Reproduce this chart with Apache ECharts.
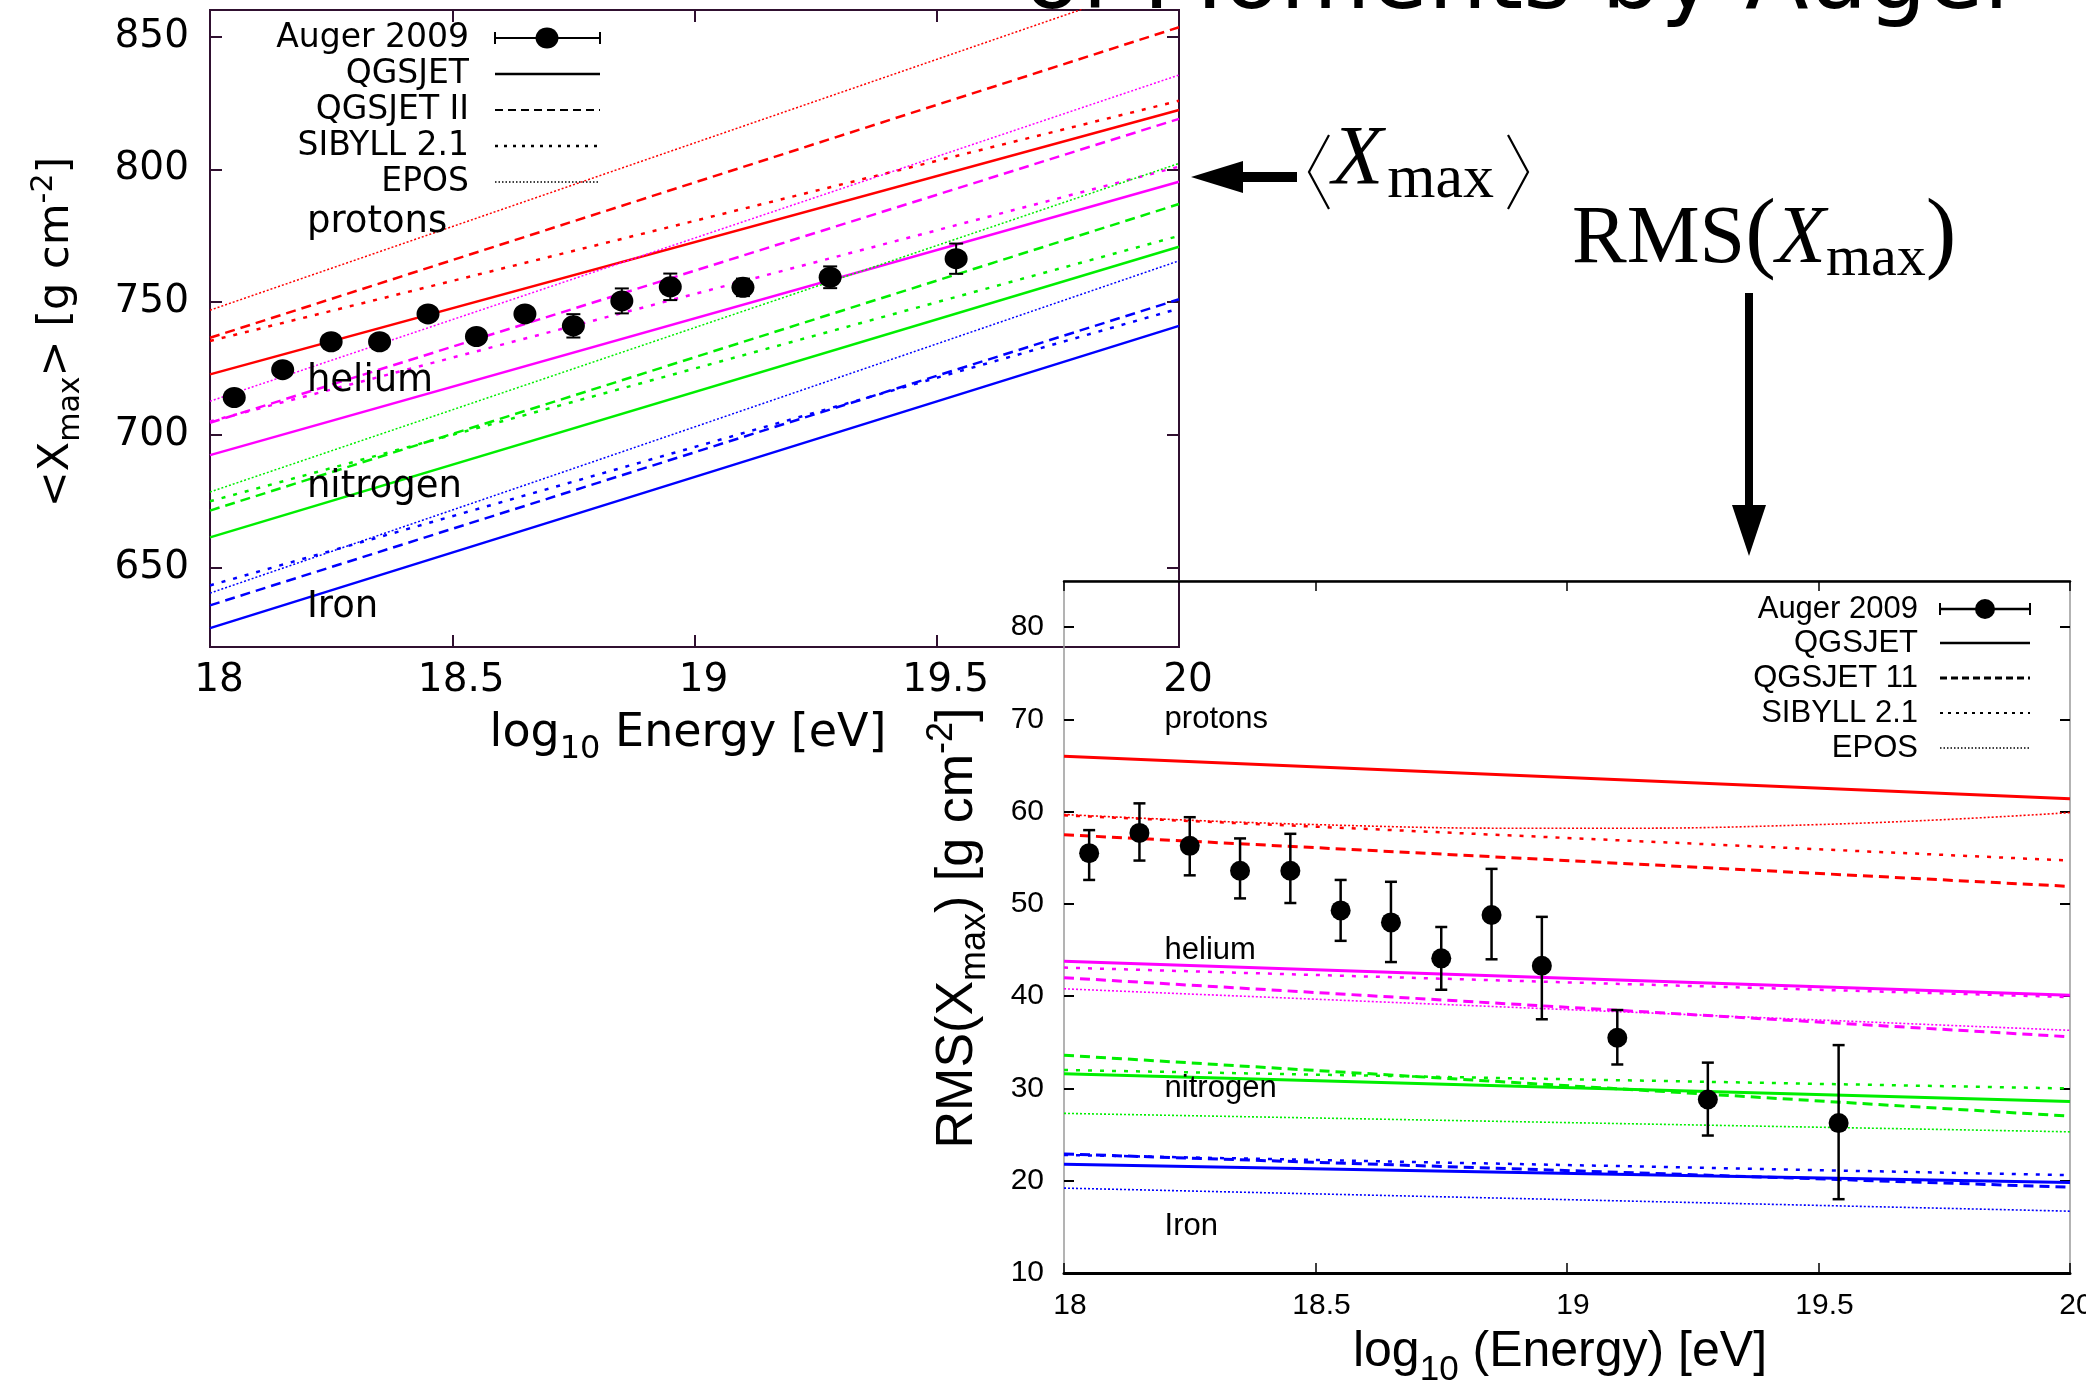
<!DOCTYPE html>
<html><head><meta charset="utf-8">
<script src="https://cdn.jsdelivr.net/npm/echarts@6/dist/echarts.min.js"></script>
<style>html,body{margin:0;padding:0;background:#fff}#c{width:2086px;height:1387px}</style>
</head><body><div id="c"></div>
<script>
// ---------------- data ----------------
const energyTicks = [18, 18.5, 19, 19.5, 20];
const xmaxTicks = [650, 700, 750, 800, 850];
const rmsTicks = [10, 20, 30, 40, 50, 60, 70, 80];
const models = ['QGSJET', 'QGSJET II', 'SIBYLL 2.1', 'EPOS'];
const xmaxLegendNames = ['Auger 2009', 'QGSJET', 'QGSJET II', 'SIBYLL 2.1', 'EPOS'];
const rmsLegendNames = ['Auger 2009', 'QGSJET', 'QGSJET 11', 'SIBYLL 2.1', 'EPOS'];
const elements = ['protons', 'helium', 'nitrogen', 'Iron'];
const xmaxLabelAt = [780, 720, 680, 635];
const rmsLabelAt = [70, 45, 30, 15];
const labelEnergy = 18.2;
const lineEnergy = [18, 20];
// <Xmax> model predictions [at 18, at 20]; order QGSJET, QGSJET II, SIBYLL 2.1, EPOS
const xmaxProtons  = [[722.7, 822.3], [736.5, 853.5], [735.3, 825.8], [746.9, 872.9]];
const xmaxHelium   = [[692.3, 795.3], [704.5, 819.0], [705.0, 801.0], [712.6, 835.5]];
const xmaxNitrogen = [[661.3, 770.8], [671.4, 786.9], [674.9, 774.9], [678.4, 802.2]];
const xmaxIron     = [[627.1, 741.0], [635.7, 751.0], [643.2, 747.5], [640.3, 765.5]];
// RMS(Xmax) model predictions [at 18, at 20]
const rmsProtons   = [[66.0, 61.4], [57.5, 51.9], [59.6, 54.7], null];
const rmsProtonsEposEnergy = [18, 18.5, 19, 19.5, 20];
const rmsProtonsEpos = [59.7, 58.6, 58.2, 58.6, 59.9];
const rmsHelium    = [[43.8, 40.1], [42.0, 35.6], [43.1, 39.9], [40.8, 36.3]];
const rmsNitrogen  = [[31.6, 28.6], [33.6, 27.0], [32.0, 30.0], [27.3, 25.3]];
const rmsIron      = [[21.8, 19.8], [22.9, 19.3], [22.8, 20.6], [19.2, 16.7]];
// Auger 2009 measurements
const augerEnergy = [18.05, 18.15, 18.25, 18.35, 18.45, 18.55, 18.65, 18.75, 18.85, 18.95, 19.10, 19.28, 19.54];
const augerXmax    = [714.0, 724.5, 735.0, 735.0, 745.5, 737.0, 745.5, 741.0, 750.4, 755.7, 755.5, 759.3, 766.3];
const augerXmaxErr = [2.3, 2.0, 2.0, 2.0, 2.3, 2.5, 2.5, 4.4, 4.7, 5.0, 3.3, 4.1, 5.7];
const augerRms     = [55.5, 57.7, 56.3, 53.6, 53.6, 49.3, 48.0, 44.1, 48.8, 43.3, 35.5, 28.8, 26.25];
const augerRmsHigh = [58.0, 60.9, 59.4, 57.1, 57.6, 52.6, 52.4, 47.5, 53.8, 48.6, 38.5, 32.8, 34.7];
const augerRmsLow  = [52.6, 54.7, 53.1, 50.6, 50.1, 46.0, 43.7, 40.7, 44.0, 37.5, 32.6, 24.9, 18.0];

// ---------------- styles ----------------
const TOPF = 'DejaVu Sans';
const BOTF = 'Liberation Sans';
const SERIF = 'Liberation Serif';
const topAx = '#301030';
const colRed = '#ff0000', colMag = '#ff00ff', colGreen = '#00ee00', colBlue = '#0000ff';
const modelDash = ['solid', [10, 6], [4, 8], [2, 2]];
const topWidths = [2.5, 2.5, 2.5, 1.5];
const botWidths = [3, 3, 2.5, 1.6];

const chart = echarts.init(document.getElementById('c'), null, {renderer: 'canvas', width: 2086, height: 1387});

function modelLines(arrs, color, ax, widths, tag) {
  const out = [];
  arrs.forEach((v, m) => {
    if (!v) return;
    out.push({
      type: 'line', name: tag + ' ' + models[m], xAxisIndex: ax, yAxisIndex: ax,
      data: lineEnergy.map((x, i) => [x, v[i]]), symbol: 'none', silent: true, clip: true,
      lineStyle: {color: color, width: widths[m], type: modelDash[m], cap: 'butt', opacity: 1}, z: 2
    });
  });
  return out;
}

function errSeries(ax, data, cap, lw) {
  return {
    type: 'custom', xAxisIndex: ax, yAxisIndex: ax, silent: true, z: 3, clip: true,
    data: data,
    renderItem: function (params, api) {
      const x = api.value(0);
      const lo = api.coord([x, api.value(1)]);
      const hi = api.coord([x, api.value(2)]);
      const st = {stroke: '#000', lineWidth: lw};
      return {type: 'group', children: [
        {type: 'line', shape: {x1: lo[0], y1: lo[1], x2: hi[0], y2: hi[1]}, style: st},
        {type: 'line', shape: {x1: hi[0] - cap, y1: hi[1], x2: hi[0] + cap, y2: hi[1]}, style: st},
        {type: 'line', shape: {x1: lo[0] - cap, y1: lo[1], x2: lo[0] + cap, y2: lo[1]}, style: st}
      ]};
    }
  };
}

function labelSeries(ax, values, font, size) {
  return {
    type: 'scatter', xAxisIndex: ax, yAxisIndex: ax, silent: true, symbolSize: 0,
    itemStyle: {color: '#000', opacity: 1}, z: 5,
    data: elements.map((n, i) => ({name: n, value: [labelEnergy, values[i]]})),
    label: {show: true, position: 'right', distance: 0, formatter: '{b}', fontFamily: font, fontSize: size, color: '#000', opacity: 1}
  };
}

function pointSeries(ax, data, size) {
  return {type: 'scatter', xAxisIndex: ax, yAxisIndex: ax, symbol: 'circle', symbolSize: size, silent: true, z: 4,
    itemStyle: {color: '#000', opacity: 1}, data: data};
}

const series = [].concat(
  modelLines(xmaxProtons, colRed, 0, topWidths, 'p'),
  modelLines(xmaxHelium, colMag, 0, topWidths, 'He'),
  modelLines(xmaxNitrogen, colGreen, 0, topWidths, 'N'),
  modelLines(xmaxIron, colBlue, 0, topWidths, 'Fe'),
  modelLines(rmsProtons, colRed, 2, botWidths, 'p'),
  [{type: 'line', name: 'p EPOS rms', xAxisIndex: 2, yAxisIndex: 2, smooth: 0.5, symbol: 'none', silent: true,
    data: rmsProtonsEposEnergy.map((x, i) => [x, rmsProtonsEpos[i]]),
    lineStyle: {color: colRed, width: botWidths[3], type: modelDash[3]}, z: 2}],
  modelLines(rmsHelium, colMag, 2, botWidths, 'He'),
  modelLines(rmsNitrogen, colGreen, 2, botWidths, 'N'),
  modelLines(rmsIron, colBlue, 2, botWidths, 'Fe'),
  [errSeries(0, augerEnergy.map((x, i) => [x, augerXmax[i] - augerXmaxErr[i], augerXmax[i] + augerXmaxErr[i]]), 7, 2),
   pointSeries(0, augerEnergy.map((x, i) => [x, augerXmax[i]]), [23, 21]),
   errSeries(2, augerEnergy.map((x, i) => [x, augerRmsLow[i], augerRmsHigh[i]]), 6, 2.5),
   pointSeries(2, augerEnergy.map((x, i) => [x, augerRms[i]]), 20),
   labelSeries(0, xmaxLabelAt, TOPF, 37),
   labelSeries(2, rmsLabelAt, BOTF, 31)]
);

function fmt(v) { return String(Math.round(v * 10) / 10); }

function xAxisDef(grid, pos, showLabel, o) {
  return {
    type: 'value', gridIndex: grid, min: 18, max: 20, position: pos,
    axisLine: {show: !!o.line, lineStyle: {color: o.lineColor || '#000', width: o.lineW || 1}},
    splitLine: {show: false},
    axisTick: {show: true, inside: true, length: o.tick, lineStyle: {color: o.tickColor, width: o.tickW}, customValues: energyTicks},
    axisLabel: {show: showLabel, customValues: energyTicks, formatter: fmt, fontFamily: o.font, fontSize: o.size, color: '#000', margin: o.margin, padding: [0, 0, 0, o.pad], showMinLabel: true, showMaxLabel: true}
  };
}
function yAxisDef(grid, pos, showLabel, min, max, ticks, o) {
  return {
    type: 'value', gridIndex: grid, min: min, max: max, position: pos,
    axisLine: {show: false}, splitLine: {show: false},
    axisTick: {show: true, inside: true, length: o.tick, lineStyle: {color: o.tickColor, width: o.tickW}, customValues: ticks},
    axisLabel: {show: showLabel, customValues: ticks, formatter: fmt, fontFamily: o.font, fontSize: o.size, color: '#000', margin: o.margin, showMinLabel: true, showMaxLabel: true}
  };
}
const topO = {tick: 12, tickColor: topAx, tickW: 2, font: TOPF, size: 39, margin: 14, pad: 18};
const topYO = {tick: 12, tickColor: topAx, tickW: 2, font: TOPF, size: 39, margin: 21};
const botO = {tick: 10, tickColor: '#000', tickW: 1.5, font: BOTF, size: 30, margin: 18, pad: 12, line: true, lineW: 3};
const botTopO = {tick: 10, tickColor: '#000', tickW: 1.5, font: BOTF, size: 30, margin: 18, pad: 0, line: true, lineW: 2.5};
const botYO = {tick: 10, tickColor: '#000', tickW: 2, font: BOTF, size: 30, margin: 20};

// ---------- text helpers (graphic decorations) ----------
const mctx = document.createElement('canvas').getContext('2d');
function textW(t, size, fam, italic) {
  mctx.font = (italic ? 'italic ' : '') + size + 'px "' + fam + '"';
  return mctx.measureText(t).width;
}
function compose(parts, fam) {
  let x = 0; const kids = [];
  parts.forEach(p => {
    const f = p.f || fam;
    const w = textW(p.t, p.s, f, p.i);
    kids.push({type: 'text', x: x, y: (p.dy || 0) - 0.35 * p.s, silent: true,
      style: {text: p.t, fontSize: p.s, fontFamily: f, fontStyle: p.i ? 'italic' : 'normal', fill: '#000',
        align: 'left', verticalAlign: 'middle', textAlign: 'left', textVerticalAlign: 'middle'}});
    x += w + (p.gap || 0);
  });
  return {kids: kids, w: x};
}
function centeredTitle(parts, fam, cx, baseY, rot) {
  const c = compose(parts, fam);
  c.kids.forEach(k => { k.x -= c.w / 2; });
  return {type: 'group', x: cx, y: baseY, rotation: rot || 0, children: c.kids, silent: true};
}
function plainText(t, x, y, fam, size, align, extra) {
  return Object.assign({type: 'text', x: x, y: y, silent: true,
    style: {text: t, fontSize: size, fontFamily: fam, fill: '#000', align: align, verticalAlign: 'middle',
      textAlign: align, textVerticalAlign: 'middle'}}, extra || {});
}

const graphics = [];
// axis titles
graphics.push(centeredTitle([{t: 'log', s: 46}, {t: '10', s: 32, dy: 11}, {t: ' Energy [eV]', s: 46}], TOPF, 688, 750));
graphics.push(centeredTitle([{t: '<X', s: 43}, {t: 'max', s: 30, dy: 10}, {t: '> [g cm', s: 43}, {t: '-2', s: 30, dy: -17}, {t: ']', s: 43}], TOPF, 72, 332, Math.PI / 2));
graphics.push(centeredTitle([{t: 'log', s: 50}, {t: '10', s: 35, dy: 13}, {t: ' (Energy) [eV]', s: 50}], BOTF, 1560, 1370));
graphics.push(centeredTitle([{t: 'RMS(X', s: 52}, {t: 'max', s: 36, dy: 12}, {t: ') [g cm', s: 52}, {t: '-2', s: 36, dy: -21}, {t: ']', s: 52}], BOTF, 976, 928, Math.PI / 2));

// top legend
const topLegX = 469, topSampleL = 495, topSampleR = 600;
const topRows = [38, 74, 110, 146, 182];
xmaxLegendNames.forEach((n, i) => graphics.push(plainText(n, topLegX, topRows[i], TOPF, 33, 'right')));
const topLegDash = [null, null, [8, 5], [3, 6], [1.5, 2]];
const topLegW = [2, 2.5, 2, 2.5, 1.5];
topRows.forEach((y, i) => {
  graphics.push({type: 'line', silent: true, shape: {x1: topSampleL, y1: y, x2: topSampleR, y2: y},
    style: {stroke: '#000', lineWidth: topLegW[i], lineDash: topLegDash[i]}});
});
graphics.push({type: 'line', silent: true, shape: {x1: topSampleL, y1: 32, x2: topSampleL, y2: 44}, style: {stroke: '#000', lineWidth: 2}});
graphics.push({type: 'line', silent: true, shape: {x1: topSampleR, y1: 32, x2: topSampleR, y2: 44}, style: {stroke: '#000', lineWidth: 2}});
graphics.push({type: 'ellipse', silent: true, shape: {cx: 547, cy: 38, rx: 11.5, ry: 10.5}, style: {fill: '#000'}});

// bottom legend
const botLegX = 1918, botSampleL = 1940, botSampleR = 2030;
const botRows = [609, 643, 678, 713, 748];
rmsLegendNames.forEach((n, i) => graphics.push(plainText(n, botLegX, botRows[i], BOTF, 31, 'right')));
const botLegDash = [null, null, [7, 4], [3, 5], [1.5, 2]];
const botLegW = [2.5, 2.5, 3, 2, 1.5];
botRows.forEach((y, i) => {
  graphics.push({type: 'line', silent: true, shape: {x1: botSampleL, y1: y, x2: botSampleR, y2: y},
    style: {stroke: '#000', lineWidth: botLegW[i], lineDash: botLegDash[i]}});
});
graphics.push({type: 'line', silent: true, shape: {x1: botSampleL, y1: 603, x2: botSampleL, y2: 615}, style: {stroke: '#000', lineWidth: 2}});
graphics.push({type: 'line', silent: true, shape: {x1: botSampleR, y1: 603, x2: botSampleR, y2: 615}, style: {stroke: '#000', lineWidth: 2}});
graphics.push({type: 'circle', silent: true, shape: {cx: 1985, cy: 609, r: 10}, style: {fill: '#000'}});

// page title fragment (cut at the top)
graphics.push(plainText('of Moments by Auger', 2022, 16 - 0.35 * 93, TOPF, 93, 'right'));

// <Xmax> annotation with left arrow
graphics.push({type: 'rect', silent: true, shape: {x: 1238, y: 172, width: 59, height: 10}, style: {fill: '#000'}});
graphics.push({type: 'polygon', silent: true, shape: {points: [[1191, 177], [1243, 161], [1243, 193]]}, style: {fill: '#000'}});
graphics.push({type: 'polyline', silent: true, shape: {points: [[1329, 135], [1309, 172], [1329, 209]]}, style: {stroke: '#000', lineWidth: 2.2, fill: null}});
graphics.push({type: 'polyline', silent: true, shape: {points: [[1508, 135], [1528, 172], [1508, 209]]}, style: {stroke: '#000', lineWidth: 2.2, fill: null}});
(function () {
  const c = compose([{t: 'X', s: 84, i: true, gap: 4}, {t: 'max', s: 62, dy: 11}], SERIF);
  graphics.push({type: 'group', x: 1332, y: 191, children: c.kids, silent: true});
})();
// RMS(Xmax) annotation with down arrow
(function () {
  const c = compose([{t: 'RMS', s: 82}, {t: '(', s: 92}, {t: 'X', s: 82, i: true}, {t: 'max', s: 58, dy: 11}, {t: ')', s: 92}], SERIF);
  graphics.push({type: 'group', x: 1572, y: 269, children: c.kids, silent: true});
})();
graphics.push({type: 'rect', silent: true, shape: {x: 1745, y: 293, width: 8, height: 215}, style: {fill: '#000'}});
graphics.push({type: 'polygon', silent: true, shape: {points: [[1732, 505], [1766, 505], [1749, 556]]}, style: {fill: '#000'}});

chart.setOption({
  animation: false,
  backgroundColor: '#ffffff',
  grid: [
    {left: 210, top: 10, width: 969, height: 637, show: true, borderColor: topAx, borderWidth: 2, backgroundColor: 'rgba(0,0,0,0)', containLabel: false, outerBoundsMode: 'none'},
    {left: 1064, top: 581, width: 1006, height: 692, show: true, borderColor: '#9a9a9a', borderWidth: 1.5, backgroundColor: 'rgba(0,0,0,0)', containLabel: false, outerBoundsMode: 'none'}
  ],
  xAxis: [
    xAxisDef(0, 'bottom', true, topO),
    xAxisDef(0, 'top', false, topO),
    xAxisDef(1, 'bottom', true, botO),
    xAxisDef(1, 'top', false, botTopO)
  ],
  yAxis: [
    yAxisDef(0, 'left', true, 620, 860, xmaxTicks, topYO),
    yAxisDef(0, 'right', false, 620, 860, xmaxTicks, topYO),
    yAxisDef(1, 'left', true, 10, 85, rmsTicks, botYO),
    yAxisDef(1, 'right', false, 10, 85, rmsTicks, botYO)
  ],
  series: series,
  graphic: {elements: graphics}
});
</script>
</body></html>
